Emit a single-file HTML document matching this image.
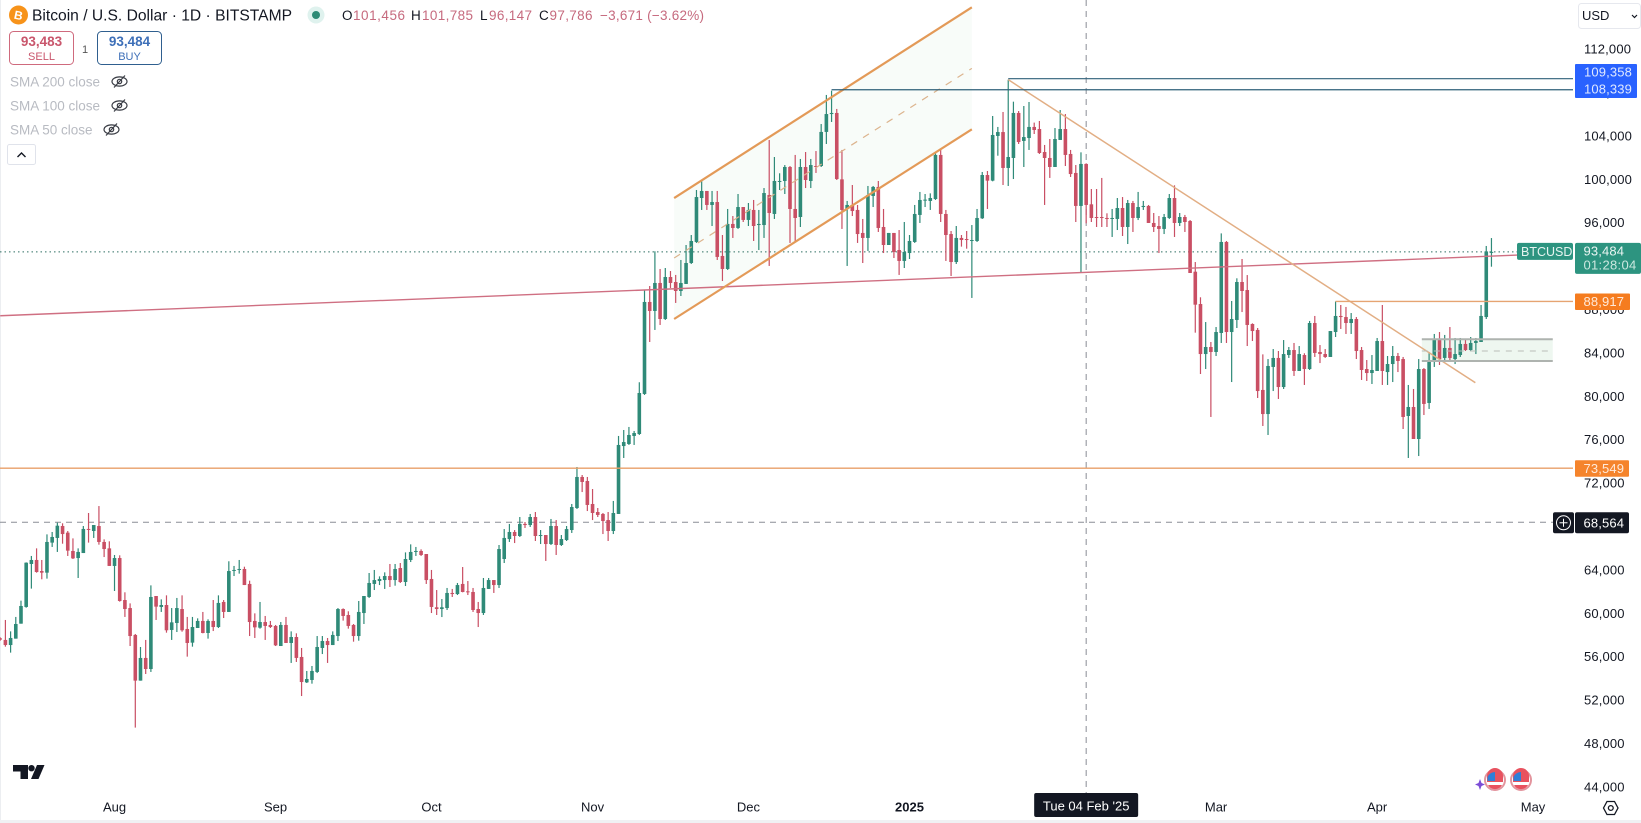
<!DOCTYPE html>
<html lang="en">
<head>
<meta charset="utf-8">
<title>BTCUSD daily chart</title>
<style>
html,body{margin:0;padding:0;background:#fff;width:1641px;height:823px;overflow:hidden}
svg{display:block;font-family:"Liberation Sans",Arial,sans-serif}
</style>
</head>
<body>
<svg id="chart" xmlns="http://www.w3.org/2000/svg" width="1641" height="823" viewBox="0 0 1641 823">
  <rect x="0" y="0" width="1641" height="823" fill="#ffffff"/>
  <rect x="0" y="0" width="1" height="823" fill="#eceef1"/>
  <rect x="0" y="820" width="1641" height="3" fill="#f0f1f3"/>
  <g id="drawings-back"></g>
  <g id="candles"></g>
  <g id="drawings"></g>
  <g id="price-axis"></g>
  <g id="time-axis"></g>
  <g id="price-labels"></g>

  <g>
    <circle cx="18.5" cy="15" r="9.5" fill="#f7931a"/>
    <text x="18.5" y="19.5" font-size="12" font-weight="bold" fill="#fff" text-anchor="middle" transform="rotate(12 18.5 15)">B</text>
    <text x="32" y="20.5" font-size="16" fill="#131722" textLength="260" lengthAdjust="spacingAndGlyphs">Bitcoin / U.S. Dollar · 1D · BITSTAMP</text>
    <circle cx="316" cy="15" r="8.5" fill="#dff2ee"/>
    <circle cx="316" cy="15" r="4" fill="#2e8b76"/>
    <g font-size="13.5">
      <text x="342" y="20" fill="#131722">O</text>
      <text x="353" y="20" fill="#c66a7e" textLength="52">101,456</text>
      <text x="411" y="20" fill="#131722">H</text>
      <text x="422" y="20" fill="#c66a7e" textLength="51">101,785</text>
      <text x="480" y="20" fill="#131722">L</text>
      <text x="489" y="20" fill="#c66a7e" textLength="43">96,147</text>
      <text x="539" y="20" fill="#131722">C</text>
      <text x="549.5" y="20" fill="#c66a7e" textLength="43">97,786</text>
      <text x="600" y="20" fill="#c66a7e" textLength="104">−3,671 (−3.62%)</text>
    </g>
  </g>

  <g>
    <rect x="9.5" y="31.5" width="64" height="33" rx="4" fill="#fff" stroke="#cf6a7d" stroke-width="1"/>
    <text x="41.5" y="46" font-size="13.5" font-weight="bold" fill="#c9566c" text-anchor="middle">93,483</text>
    <text x="41.5" y="60" font-size="11" fill="#c9566c" text-anchor="middle">SELL</text>
  </g>
  <text x="85" y="53" font-size="11" fill="#555" text-anchor="middle">1</text>
  <g>
    <rect x="97.5" y="31.5" width="64" height="33" rx="4" fill="#fff" stroke="#2f5f8f" stroke-width="1"/>
    <text x="129.5" y="46" font-size="13.5" font-weight="bold" fill="#3d6fb8" text-anchor="middle">93,484</text>
    <text x="129.5" y="60" font-size="11" fill="#3d6fb8" text-anchor="middle">BUY</text>
  </g>

  <g>
    <text x="10" y="86.5" font-size="13.5" fill="#b8bbc2">SMA 200 close</text>
    <text x="10" y="110.5" font-size="13.5" fill="#b8bbc2">SMA 100 close</text>
    <text x="10" y="134.5" font-size="13.5" fill="#b8bbc2">SMA 50 close</text>
    <g transform="translate(119.5 81.5)" fill="none" stroke="#3a3d45" stroke-width="1.2">
      <ellipse cx="0" cy="0" rx="7.5" ry="4.6"/><circle cx="0" cy="0" r="2.2"/><line x1="-5.5" y1="6" x2="5.5" y2="-6"/>
    </g>
    <g transform="translate(119.5 105.5)" fill="none" stroke="#3a3d45" stroke-width="1.2">
      <ellipse cx="0" cy="0" rx="7.5" ry="4.6"/><circle cx="0" cy="0" r="2.2"/><line x1="-5.5" y1="6" x2="5.5" y2="-6"/>
    </g>
    <g transform="translate(111.5 129.5)" fill="none" stroke="#3a3d45" stroke-width="1.2">
      <ellipse cx="0" cy="0" rx="7.5" ry="4.6"/><circle cx="0" cy="0" r="2.2"/><line x1="-5.5" y1="6" x2="5.5" y2="-6"/>
    </g>
    <rect x="7.5" y="144.5" width="28" height="20" rx="2" fill="#fff" stroke="#e0e3eb"/>
    <path d="M17.5 157 L21.5 153 L25.5 157" fill="none" stroke="#131722" stroke-width="1.4"/>
  </g>

  <g fill="#131722">
    <rect x="13" y="765" width="15" height="6.5"/>
    <rect x="20.5" y="771" width="7.5" height="8"/>
    <circle cx="31.5" cy="768.2" r="3.2"/>
    <polygon points="37,765 44.5,765 38.5,779 31,779"/>
  </g>

  <g>
    <rect x="1578.5" y="3.5" width="62" height="25" rx="3" fill="#fff" stroke="#e6e8ee"/>
    <text x="1582" y="20" font-size="13" fill="#131722">USD</text>
    <path d="M1632 15 L1634.5 17.5 L1637 15" fill="none" stroke="#131722" stroke-width="1.2"/>
  </g>

  <g>
    <path d="M1492 770 A11 11 0 0 0 1492 790" fill="none" stroke="#7c4dd6" stroke-width="1.3"/>
    <path d="M1480 779 L1481.5 783 L1485 784.5 L1481.5 786 L1480 790 L1478.5 786 L1475 784.5 L1478.5 783 Z" fill="#7c4dd6"/>
    <g>
      <circle cx="1495" cy="780" r="10" fill="#fff" stroke="#e3949d" stroke-width="2"/>
      <path d="M1487 776 A8 8 0 0 1 1503 776 L1503 782 L1487 782 Z" fill="#e8525f"/>
      <path d="M1487.5 777 A8 8 0 0 1 1495 772 L1495 781 L1487.5 781 Z" fill="#2f7fd8"/>
      <path d="M1488 785 A8 8 0 0 0 1502 785 Z" fill="#e8525f"/>
    </g>
    <g>
      <circle cx="1521" cy="780" r="10" fill="#fff" stroke="#e3949d" stroke-width="2"/>
      <path d="M1513 776 A8 8 0 0 1 1529 776 L1529 782 L1513 782 Z" fill="#e8525f"/>
      <path d="M1513.5 777 A8 8 0 0 1 1521 772 L1521 781 L1513.5 781 Z" fill="#2f7fd8"/>
      <path d="M1514 785 A8 8 0 0 0 1528 785 Z" fill="#e8525f"/>
    </g>
  </g>

  <g fill="none" stroke="#131722" stroke-width="1.3">
    <polygon points="1603.5,808 1607,801.5 1614.5,801.5 1618,808 1614.5,814.5 1607,814.5"/>
    <circle cx="1610.8" cy="808" r="2.4"/>
  </g>
</svg>

<script>
// Candle values, USD, oldest to newest.
var opens = [
57870,57720,57250,57840,59220,60760,64720,65090,64070,63920,
66690,67120,68220,67610,65920,65270,65730,67950,67760,68220,
66750,66160,64540,65270,61400,60660,58180,53970,56060,55040,
61770,60760,60940,58640,59280,60570,58730,57470,58820,59470,
58360,59470,58910,61220,60300,64110,64200,64260,62880,59470,
58850,59370,59100,59010,57160,59100,57440,57990,56150,53810,
54030,54770,56980,57620,57250,58080,60570,60020,59100,58080,
60200,61680,62880,63150,63240,63610,63240,64350,63060,65090,
65830,65920,65640,63340,60730,60570,60660,62050,61950,62880,
62200,62140,60570,60200,62420,63240,62780,65180,67020,67670,
67300,68410,68310,69050,67300,67390,66560,68220,66470,66930,
67850,69880,72740,72370,70250,69510,69330,68770,67760,69330,
75590,75780,76520,76700,80390,88870,88040,90620,87300,91170,
90710,89880,90530,92460,94400,98450,99100,97810,98080,93110,
91910,96060,95690,97620,96430,97350,95960,95960,98730,96980,
99930,100020,101310,97440,96700,101310,100020,101400,101400,104540,
106190,106290,100170,97440,97810,97350,95230,94770,98640,99470,
95780,94120,95230,93660,92650,93380,94400,96890,98210,98180,
98360,102420,96980,95130,92550,94770,94670,94490,94490,96580,
100570,100050,104170,104530,101220,102140,106290,103710,103980,105000,
104810,102690,102140,101310,103800,104810,102510,100760,97720,101590,
97870,96700,96700,96610,96520,96520,97530,95780,97990,96610,
97620,97720,96150,95870,95600,96610,98450,96150,96700,96330,
91660,88680,84070,84720,84260,86010,94400,86100,87210,90710,
89970,86840,86290,80760,78540,82880,83710,81030,83980,84440,
82510,83980,82690,86930,84260,84070,83800,86100,87580,87480,
86930,87300,84440,82690,82320,82510,85270,82410,83150,83890,
83610,78360,79190,76240,82690,79560,83340,85360,83710,84630,
83610,83980,85000,84440,85090,85180,87480,93470];
var highs = [
57960,59560,58510,59840,61340,64870,65460,66160,65090,67450,
67670,68530,68470,67760,67080,66160,68220,69420,68310,70060,
66990,66810,65550,65520,62110,61090,58270,57070,57720,62750,
61770,61460,61830,60660,61590,61830,59840,59840,59710,60300,
59620,61400,61830,61400,64970,64540,65090,64470,63180,60170,
61220,59930,59470,59100,59370,59840,58510,58330,56980,54860,
55320,58080,58080,57900,58510,60660,60630,60360,59190,61310,
61770,63890,64170,63580,63950,64720,64720,64810,65790,66530,
66290,66070,65640,64170,62320,61490,62510,62420,62970,64440,
63150,62510,61220,63430,63430,63240,66470,67940,68410,67850,
69050,68590,69330,69510,67850,67390,68870,68770,67390,68220,
70250,73660,72920,72740,71630,69880,69420,69510,70530,76520,
77070,77350,76980,81470,89970,90340,93540,91910,92000,91720,
91360,92740,94120,95040,99190,100020,99100,99100,99100,95040,
97440,96790,98820,97620,97990,98270,97350,99370,103800,102230,
100730,101490,101400,102420,102050,102690,102050,102780,105270,107950,
108340,106660,102880,98180,99650,97810,96520,99560,99560,100020,
97440,95230,95230,95500,96240,95040,97810,99010,98820,98880,
102690,102880,97350,95410,95870,95040,95410,95960,97440,100850,
100940,106010,105000,106380,109358,107330,106470,106930,107300,105400,
105550,103340,103890,104900,106560,106190,102880,101490,102660,101650,
99280,99280,100300,97040,97440,98450,98540,98270,98180,99010,
98180,97810,97070,96790,96980,98820,99620,97070,96890,96420,
92550,89300,87020,85180,86560,95190,94490,88960,91050,92830,
91350,86900,86470,84040,83610,84530,84350,85360,84720,85090,
84810,84140,87120,87580,84900,84530,86190,88917,88590,88410,
87850,87480,84720,83520,83980,85550,88590,83890,84810,84170,
83800,81220,80850,83610,82780,84260,85920,86100,85830,86560,
85550,85550,85460,85640,85550,88590,94030,94760];
var lows = [
57650,57100,56550,57840,59220,60690,62450,63920,63310,63370,
66290,65830,66590,65460,65180,63430,65730,66690,67120,66500,
65360,64540,62230,61250,59840,57160,49640,53970,54580,54770,
59560,60300,58390,57720,58450,58480,56180,57100,58820,58330,
57840,58540,58820,59740,60300,63610,63830,62780,58080,57900,
58760,57720,58820,57160,57160,57440,55600,55690,52550,53750,
53690,54670,56420,55600,57250,57620,59500,58760,57560,57650,
59190,61590,62320,62780,62420,62600,62720,62970,62690,64900,
65460,65460,62880,60200,60020,59830,60480,61680,61860,62110,
61860,60300,58910,60020,62420,62050,62510,64810,66750,66650,
67210,68040,68130,66840,66560,65000,66470,65550,66380,66840,
67580,69790,71350,69600,68770,69050,67480,66840,67480,69330,
74490,75690,75690,76610,80300,85180,86290,86750,87210,90160,
88780,89420,90530,92370,94310,97350,97350,95870,92740,90800,
91820,94770,95600,96240,95870,94490,93660,94770,92190,96520,
99190,98820,94310,94400,95780,99370,99370,100760,101310,103430,
105460,100110,95600,92190,96790,94310,92460,93570,97620,95320,
93380,94120,92920,91360,92000,92830,94310,96150,97620,97350,
98270,96240,92650,91260,92370,93970,93780,89240,94400,96520,
97440,99990,102350,99650,99560,100200,103430,101310,102880,104350,
102510,97810,100300,101310,103800,101400,100390,96240,91630,96120,
96240,95780,95780,95780,94860,95500,94950,94210,95320,96420,
97350,96150,95320,93380,95130,96520,94860,95870,95320,91540,
86040,82230,82690,78270,83890,85090,85090,81490,86470,87940,
84810,85270,80020,77440,76610,80660,79930,80850,83710,82050,
82510,81220,82600,83800,83240,83710,83800,85640,86380,85920,
85920,83610,81680,81590,81310,82510,81220,81220,81490,82410,
77160,74490,76240,74670,78450,79010,82880,83060,83520,83520,
83150,83800,84350,84350,84070,85180,87300,92120];
var closes = [
57750,57250,57900,59190,60850,64840,65090,63980,63920,66750,
67210,68250,67480,65950,65240,65830,67950,67880,68310,66750,
66100,64540,65270,61310,60570,58080,53970,56060,55040,61680,
60790,60940,58610,59340,60660,58610,57440,58910,59470,58360,
59470,58910,61130,60300,64070,64170,64260,62780,59370,58880,
59370,59010,58910,57220,59100,57440,57990,56060,53840,54120,
54860,57070,57620,57250,58180,60570,59930,59010,58080,60300,
61770,62970,63240,63340,63610,63240,64260,63060,65180,65830,
65920,65550,63240,60760,60570,60730,62050,61950,62780,62140,
62110,60480,60200,62510,63240,62780,66100,67120,67670,67300,
68410,68310,69050,67300,67390,66560,68220,66470,67020,67940,
69970,72740,72280,70160,69420,69240,68680,67760,69420,75690,
75960,76610,76790,80480,88870,88040,90620,87300,91170,90620,
89880,90620,92460,94490,98540,99100,97810,98080,93020,91910,
96060,95690,97620,96430,97350,95870,96060,98910,97070,100020,
100020,101310,97440,96610,101310,100110,101490,101310,104540,106190,
106290,100200,97350,97810,97250,95130,94770,98730,99470,95690,
94120,95230,93480,92650,93480,94490,96980,98270,98300,98450,
102420,96980,95040,92550,94770,94580,94580,94580,96610,100570,
100050,104260,104530,101220,102230,106290,103610,104070,105000,104720,
102600,102140,101310,103890,104810,102420,100660,97720,101590,97810,
96610,96610,96610,96520,96610,97530,95780,97990,96610,97620,
97720,96150,95780,95600,96700,98450,96150,96700,96240,91540,
88620,84070,84720,84260,86100,94400,86100,87300,90710,89880,
86750,86190,80660,78540,82970,83710,81030,84070,84440,82510,
84070,82690,86930,84170,84070,83800,86190,87580,87480,86930,
87300,84350,82600,82320,82600,85270,82510,83150,83890,83430,
78270,79190,76240,82690,79470,83430,85360,83610,84630,83710,
84070,85000,84440,85090,85270,87580,93530,93484];

// Axis ticks.
var priceTicks = [112000,108000,104000,100000,96000,92000,88000,84000,80000,76000,72000,64000,60000,56000,52000,48000,44000];
var timeTickLabels = ['Aug','Sep','Oct','Nov','Dec','2025','Mar','Apr','May'];
var timeTickBars = [23,54,84,115,145,176,235,266,296];
var crosshairBar = 210;
var crosshairLabel = "Tue 04 Feb '25";

// Price levels of the horizontal drawings.
var lastPrice = 93484;
var supportLevel = 73549;
var breakoutLevel = 88917;
var crosshairPrice = 68564;
var athHigh = 109358;
var decHigh = 108339;

// Drawing anchors as [bar, price].
var channelUpper = [[130.7,98450],[188,116030]];
var channelLower = [[130.7,87300],[188,104780]];
var channelMiddle = [[130.7,92920],[188,110400]];
var longTrend = [[1,87600],[293,93190]];
var downTrend = [[195,109358],[284.9,81430]];
var rangeBoxBars = [274.6,299.8];
var rangeBoxPrices = [85430,84350,83430];

var SVGNS = 'http://www.w3.org/2000/svg';
function xScale(bar){ return 135.3 + 5.196 * (bar - 27); }
function yScale(price){ return 51 + (112000 - price) * 0.01085; }
var AXIS_RIGHT = 1573;

function makeEl(tag, parent, name, interactable){
  var el = document.createElementNS(SVGNS, tag);
  
  
  parent.appendChild(el);
  return el;
}
function drawLine(parent, name, x1, y1, x2, y2, color, width, dash, interactable){
  var el = makeEl('line', parent, name, interactable);
  el.setAttribute('x1', x1);
  el.setAttribute('y1', y1);
  el.setAttribute('x2', x2);
  el.setAttribute('y2', y2);
  el.setAttribute('stroke', color);
  el.setAttribute('stroke-width', width);
  if (dash) el.setAttribute('stroke-dasharray', dash);
  return el;
}
function anchorLine(parent, name, pts, color, width, dash){
  return drawLine(parent, name, xScale(pts[0][0]), yScale(pts[0][1]), xScale(pts[1][0]), yScale(pts[1][1]), color, width, dash, 'true');
}
function drawBox(parent, name, x, y, w, h, fill, rx){
  var el = makeEl('rect', parent, name, 'false');
  el.setAttribute('x', x);
  el.setAttribute('y', y);
  el.setAttribute('width', w);
  el.setAttribute('height', h);
  el.setAttribute('fill', fill);
  if (rx) el.setAttribute('rx', rx);
  return el;
}
function drawText(parent, name, str, x, y, size, fill, anchor, weight){
  var el = makeEl('text', parent, name, 'false');
  el.setAttribute('x', x);
  el.setAttribute('y', y);
  el.setAttribute('font-size', size);
  el.setAttribute('fill', fill);
  if (anchor) el.setAttribute('text-anchor', anchor);
  if (weight) el.setAttribute('font-weight', weight);
  el.textContent = str;
  return el;
}
function fmt(n){ return String(n).replace(/\B(?=(\d{3})+$)/g, ','); }

var back = document.getElementById('drawings-back');
var candlesG = document.getElementById('candles');
var draw = document.getElementById('drawings');
var axisP = document.getElementById('price-axis');
var axisT = document.getElementById('time-axis');
var labels = document.getElementById('price-labels');

// Channel fill and range-box fill.
var poly = makeEl('polygon', back, 'channel-fill', 'false');
poly.setAttribute('points', [channelUpper[0],channelUpper[1],channelLower[1],channelLower[0]].map(function(p){ return xScale(p[0]) + ',' + yScale(p[1]); }).join(' '));
poly.setAttribute('fill', '#43a047');
poly.setAttribute('fill-opacity', '0.035');
drawBox(back, 'range-box-fill', xScale(rangeBoxBars[0]), yScale(rangeBoxPrices[0]), xScale(rangeBoxBars[1]) - xScale(rangeBoxBars[0]), yScale(rangeBoxPrices[2]) - yScale(rangeBoxPrices[0]), '#eef7f0');

// Lines that sit behind the candles.
drawLine(back, 'last-price-line', 0, yScale(lastPrice), 1517, yScale(lastPrice), '#2e6f63', 1, '1.5 3', 'false');
drawLine(back, 'crosshair-vertical', xScale(crosshairBar), 0, xScale(crosshairBar), 793, '#8a8d96', 1, '6 5', 'false');
drawLine(back, 'crosshair-horizontal', 0, yScale(crosshairPrice), 1553, yScale(crosshairPrice), '#8a8d96', 1, '6 5', 'false');

// Candles.
function drawCandles(){
  for (var i = 0; i < opens.length; i++) {
    var bar = i + 1;
    var up = closes[i] >= opens[i];
    var color = up ? '#2f8a78' : '#c94f64';
    var cx = xScale(bar);
    var group = makeEl('g', candlesG, 'candle-' + bar, 'false');
    var wick = makeEl('rect', group, 'candle-wick', 'false');
    wick.setAttribute('x', cx - 0.6);
    wick.setAttribute('width', 1.2);
    wick.setAttribute('y', yScale(highs[i]));
    wick.setAttribute('height', Math.max(0.5, yScale(lows[i]) - yScale(highs[i])));
    wick.setAttribute('fill', color);
    var bodyRect = makeEl('rect', group, 'candle-body', 'false');
    var bodyTop = yScale(Math.max(opens[i], closes[i]));
    var bodyBottom = yScale(Math.min(opens[i], closes[i]));
    bodyRect.setAttribute('x', cx - 1.8);
    bodyRect.setAttribute('width', 3.6);
    bodyRect.setAttribute('y', bodyTop);
    bodyRect.setAttribute('height', Math.max(1, bodyBottom - bodyTop));
    bodyRect.setAttribute('fill', color);
  }
}
drawCandles();

// Drawings on top of candles.
anchorLine(draw, 'long-trendline', longTrend, '#cf6f82', 1.4);
anchorLine(draw, 'channel-upper-line', channelUpper, '#e39a58', 2.2);
anchorLine(draw, 'channel-lower-line', channelLower, '#e39a58', 2.2);
anchorLine(draw, 'channel-middle-line', channelMiddle, '#dcb48e', 1.2, '7 7');
anchorLine(draw, 'down-trendline', downTrend, '#e2ae84', 1.5);
drawLine(draw, 'support-level-line', 0, yScale(supportLevel), AXIS_RIGHT, yScale(supportLevel), '#e89f68', 1.3, null, 'true');
drawLine(draw, 'breakout-level-line', xScale(258), yScale(breakoutLevel), AXIS_RIGHT, yScale(breakoutLevel), '#e6a472', 1.3, null, 'true');
drawLine(draw, 'all-time-high-line', xScale(195), yScale(athHigh) - 1, AXIS_RIGHT, yScale(athHigh) - 1, '#2f6079', 1.2, null, 'true');
drawLine(draw, 'december-high-line', xScale(161), yScale(decHigh) - 1, AXIS_RIGHT, yScale(decHigh) - 1, '#2f6079', 1.2, null, 'true');
drawLine(draw, 'range-box-top', xScale(rangeBoxBars[0]), yScale(rangeBoxPrices[0]), xScale(rangeBoxBars[1]), yScale(rangeBoxPrices[0]), '#aeb3af', 2, null, 'true');
drawLine(draw, 'range-box-middle', xScale(rangeBoxBars[0]), yScale(rangeBoxPrices[1]), xScale(rangeBoxBars[1]), yScale(rangeBoxPrices[1]), '#b9bdb9', 1, '6 6', 'true');
drawLine(draw, 'range-box-bottom', xScale(rangeBoxBars[0]), yScale(rangeBoxPrices[2]), xScale(rangeBoxBars[1]), yScale(rangeBoxPrices[2]), '#aeb3af', 2, null, 'true');

// Price axis ticks.
priceTicks.forEach(function(p){
  var t = drawText(axisP, 'price-tick', fmt(p), 1584, yScale(p) + 2.6, 13, '#131722');
  t.setAttribute('letter-spacing', '0.15');
});

// Time axis ticks.
timeTickLabels.forEach(function(label, k){
  var isYear = label === '2025';
  drawText(axisT, 'time-tick', label, xScale(timeTickBars[k]), 811.5, 13, '#131722', 'middle', isYear ? 'bold' : null);
});
drawBox(axisT, 'crosshair-time-box', xScale(crosshairBar) - 52, 793, 104, 24, '#131722', 2);
drawText(axisT, 'crosshair-time-label', crosshairLabel, xScale(crosshairBar), 810.5, 13, '#ffffff', 'middle');

// Price labels on the right-hand scale.
drawBox(labels, 'high-levels-label-box', 1575, 64, 62, 34, '#2962ff', 1);
drawText(labels, 'all-time-high-label', fmt(athHigh), 1584, 76.5, 13, '#dfe8ff').setAttribute('letter-spacing', '0.15');
drawText(labels, 'december-high-label', fmt(decHigh), 1584, 93.5, 13, '#dfe8ff').setAttribute('letter-spacing', '0.15');

drawBox(labels, 'symbol-label-box', 1517, yScale(lastPrice) - 9, 56, 17, '#2d9480', 2);
drawText(labels, 'symbol-label', 'BTCUSD', 1521, yScale(lastPrice) + 4.3, 12.5, '#e6f4f0');
drawBox(labels, 'last-price-box', 1575, yScale(lastPrice) - 9, 66, 31, '#2d9480', 2);
drawText(labels, 'last-price-label', fmt(lastPrice), 1583.5, yScale(lastPrice) + 3.5, 13, '#eaf5f2').setAttribute('letter-spacing', '0.15');
drawText(labels, 'countdown-label', '01:28:04', 1583.5, yScale(lastPrice) + 17.5, 13, '#cbe7df').setAttribute('letter-spacing', '0.3');

drawBox(labels, 'breakout-level-box', 1575, yScale(breakoutLevel) - 8, 55, 16.5, '#f57c1f', 1);
drawText(labels, 'breakout-level-label', fmt(breakoutLevel), 1583.5, yScale(breakoutLevel) + 4.7, 13, '#ffe9d8').setAttribute('letter-spacing', '0.15');

drawBox(labels, 'support-level-box', 1575, yScale(supportLevel) - 8, 54, 16.5, '#f5842c', 1);
drawText(labels, 'support-level-label', fmt(supportLevel), 1583.5, yScale(supportLevel) + 4.7, 13, '#ffe9d8').setAttribute('letter-spacing', '0.15');

drawBox(labels, 'crosshair-plus-box', 1553, yScale(crosshairPrice) - 10, 21, 21, '#131722', 2);
var plusCircle = makeEl('circle', labels, 'add-alert-circle', 'true');
plusCircle.setAttribute('cx', 1563.5);
plusCircle.setAttribute('cy', yScale(crosshairPrice) + 0.5);
plusCircle.setAttribute('r', 7);
plusCircle.setAttribute('fill', 'none');
plusCircle.setAttribute('stroke', '#ffffff');
plusCircle.setAttribute('stroke-width', '1');
drawLine(labels, 'add-alert-plus-h', 1559.5, yScale(crosshairPrice) + 0.5, 1567.5, yScale(crosshairPrice) + 0.5, '#ffffff', 1, null, 'true');
drawLine(labels, 'add-alert-plus-v', 1563.5, yScale(crosshairPrice) - 3.5, 1563.5, yScale(crosshairPrice) + 4.5, '#ffffff', 1, null, 'true');
drawBox(labels, 'crosshair-price-box', 1575, yScale(crosshairPrice) - 10, 54, 21, '#131722', 2);
drawText(labels, 'crosshair-price-label', fmt(crosshairPrice), 1583.5, yScale(crosshairPrice) + 5, 13, '#ffffff').setAttribute('letter-spacing', '0.15');
</script>
</body>
</html>
